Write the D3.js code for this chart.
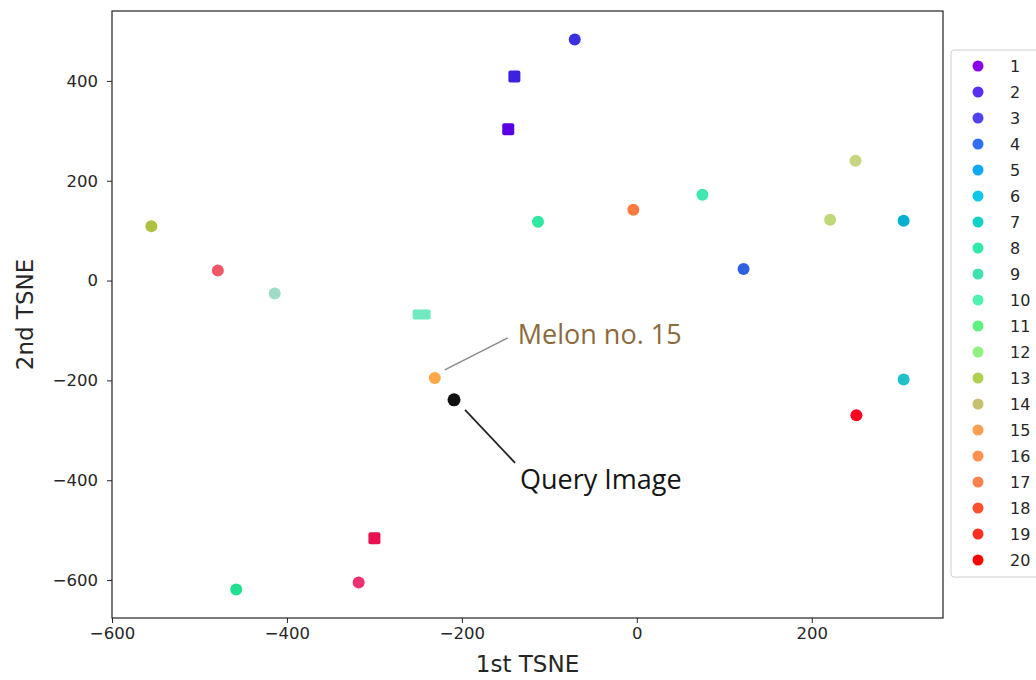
<!DOCTYPE html>
<html>
<head>
<meta charset="utf-8">
<script src="https://cdn.jsdelivr.net/npm/d3@7"></script>
<style>
  body { margin: 0; background: #fff; }
  text { font-family: "DejaVu Sans", sans-serif; }
</style>
</head>
<body>
<div id="tsne-chart"></div>
<script>
// legend classes 1..20
const classes = d3.range(1, 21);
const classColors = [
  "#8a00e8", "#5a30f0", "#5040f0", "#3070f0", "#10a8f0",
  "#10c8e8", "#10d0c8", "#30e8a8", "#40e0b0", "#50f0b0",
  "#60f080", "#90f080", "#b0d050", "#c8c070", "#ffa050",
  "#ff9050", "#ff8050", "#ff5030", "#ff3020", "#ff0000",
];

// embedded points
const pointX = [-147, -140, -71, 122, 305, 305, -113, 75, -458, -414, -246,
  -555, 221, 250, -231, -4, -479, -300, -318, 251];
const pointY = [303, 409, 483, 23, 120, -198, 118, 172, -619, -26, -68,
  109, 122, 240, -195, 142, 20, -516, -605, -270];
const pointClass = [1, 2, 3, 4, 6, 7, 8, 9, 10, 10, 11,
  13, 12, 14, 15, 16, 18, 19, 19, 20];

// query image point
const queryX = -209;
const queryY = -239;

const xTicks = [-600, -400, -200, 0, 200];
const yTicks = [-600, -400, -200, 0, 200, 400];

// how each point looks in the picture (some are washed out / squarish)
const pointColors = [
  "#5a00e0", "#3a22e0", "#3a30e0", "#2f62e0", "#00b0d0", "#20c0c8",
  "#30e8a0", "#40e8b0", "#20e090", "#a0dcc8", "#70e8c0",
  "#b0c040", "#c0d878", "#c8d480", "#ffa848", "#ff7a3e", "#f05868",
  "#e8104f", "#f03070", "#ff0020",
];
const pointShapes = [
  "square", "square", "circle", "circle", "circle", "circle",
  "circle", "circle", "circle", "circle", "rect",
  "circle", "circle", "circle", "circle", "circle", "circle",
  "square", "circle", "circle",
];

const W = 1036, H = 680;
const plot = { left: 112, right: 943, top: 11, bottom: 618 };

const svg = d3.select("#tsne-chart")
  .append("svg")
  .attr("width", W)
  .attr("height", H);

const x = d3.scaleLinear().domain([-600, 350]).range([plot.left, plot.right]);
const y = d3.scaleLinear().domain([-676, 540]).range([plot.bottom, plot.top]);

const fmt = (d) => (d < 0 ? "\u2212" + Math.abs(d) : String(d));

// axes
const xAxis = svg.append("g")
  .attr("transform", `translate(0,${plot.bottom})`)
  .call(d3.axisBottom(x).tickValues(xTicks).tickFormat(fmt).tickSize(5).tickPadding(4));
const yAxis = svg.append("g")
  .attr("transform", `translate(${plot.left},0)`)
  .call(d3.axisLeft(y).tickValues(yTicks).tickFormat(fmt).tickSize(5).tickPadding(9));

[xAxis, yAxis].forEach((g) => {
  g.select(".domain").remove();
  g.selectAll("text")
    .style("font-family", "DejaVu Sans, sans-serif")
    .style("font-size", "16.5px")
    .attr("fill", "#262626");
  g.selectAll("line").attr("stroke", "#262626");
});

// frame
svg.append("rect")
  .attr("x", plot.left)
  .attr("y", plot.top)
  .attr("width", plot.right - plot.left)
  .attr("height", plot.bottom - plot.top)
  .attr("fill", "none")
  .attr("stroke", "#222")
  .attr("stroke-width", 1.2);

// axis titles
svg.append("text")
  .attr("x", (plot.left + plot.right) / 2)
  .attr("y", 672)
  .attr("text-anchor", "middle")
  .style("font-size", "23px")
  .attr("fill", "#262626")
  .text("1st TSNE");

svg.append("text")
  .attr("transform", `translate(33,${(plot.top + plot.bottom) / 2}) rotate(-90)`)
  .attr("text-anchor", "middle")
  .style("font-size", "23px")
  .attr("fill", "#262626")
  .text("2nd TSNE");

// points
const pts = pointX.map((px, i) => ({ x: px, y: pointY[i], c: pointClass[i], i }));

const marks = svg.append("g");
pts.forEach((d) => {
  const cx = x(d.x), cy = y(d.y);
  const shape = pointShapes[d.i];
  if (shape === "circle") {
    marks.append("circle")
      .attr("cx", cx).attr("cy", cy).attr("r", 6)
      .attr("fill", pointColors[d.i]);
  } else {
    const w = shape === "rect" ? 18 : 12;
    const h = shape === "rect" ? 10 : 12;
    marks.append("rect")
      .attr("x", cx - w / 2).attr("y", cy - h / 2)
      .attr("width", w).attr("height", h)
      .attr("rx", 2)
      .attr("fill", pointColors[d.i]);
  }
});

// query point
const qx = x(queryX), qy = y(queryY);
marks.append("circle")
  .attr("cx", qx).attr("cy", qy).attr("r", 6.5)
  .attr("fill", "#111");

// annotations
const melonIdx = pointClass.indexOf(15);
const mx = x(pointX[melonIdx]), my = y(pointY[melonIdx]);

svg.append("line")
  .attr("x1", mx + 10).attr("y1", my - 8)
  .attr("x2", mx + 73).attr("y2", my - 40)
  .attr("stroke", "#8a8a8a").attr("stroke-width", 1.5);
svg.append("text")
  .attr("x", mx + 83).attr("y", my - 34)
  .style("font-family", "Open Sans, sans-serif")
  .style("font-size", "27px")
  .attr("fill", "#8b6b3d")
  .text("Melon no. 15");

svg.append("line")
  .attr("x1", qx + 11).attr("y1", qy + 10)
  .attr("x2", qx + 61).attr("y2", qy + 63)
  .attr("stroke", "#222").attr("stroke-width", 1.8);
svg.append("text")
  .attr("x", qx + 66).attr("y", qy + 89)
  .style("font-family", "Open Sans, sans-serif")
  .style("font-size", "27px")
  .attr("fill", "#151515")
  .text("Query Image");

// legend
const legend = svg.append("g");
legend.append("rect")
  .attr("x", 951).attr("y", 50)
  .attr("width", 100).attr("height", 527)
  .attr("rx", 3)
  .attr("fill", "#fff")
  .attr("stroke", "#d0d0d0");

const items = legend.selectAll("g.item")
  .data(classes)
  .enter()
  .append("g")
  .attr("class", "item")
  .attr("transform", (d, i) => `translate(0,${66 + i * 26})`);

items.append("circle")
  .attr("cx", 978).attr("cy", 0).attr("r", 5.5)
  .attr("fill", (d, i) => classColors[i]);

items.append("text")
  .attr("x", 1010).attr("y", 6)
  .style("font-size", "16px")
  .attr("fill", "#262626")
  .text((d) => d);
</script>
</body>
</html>
